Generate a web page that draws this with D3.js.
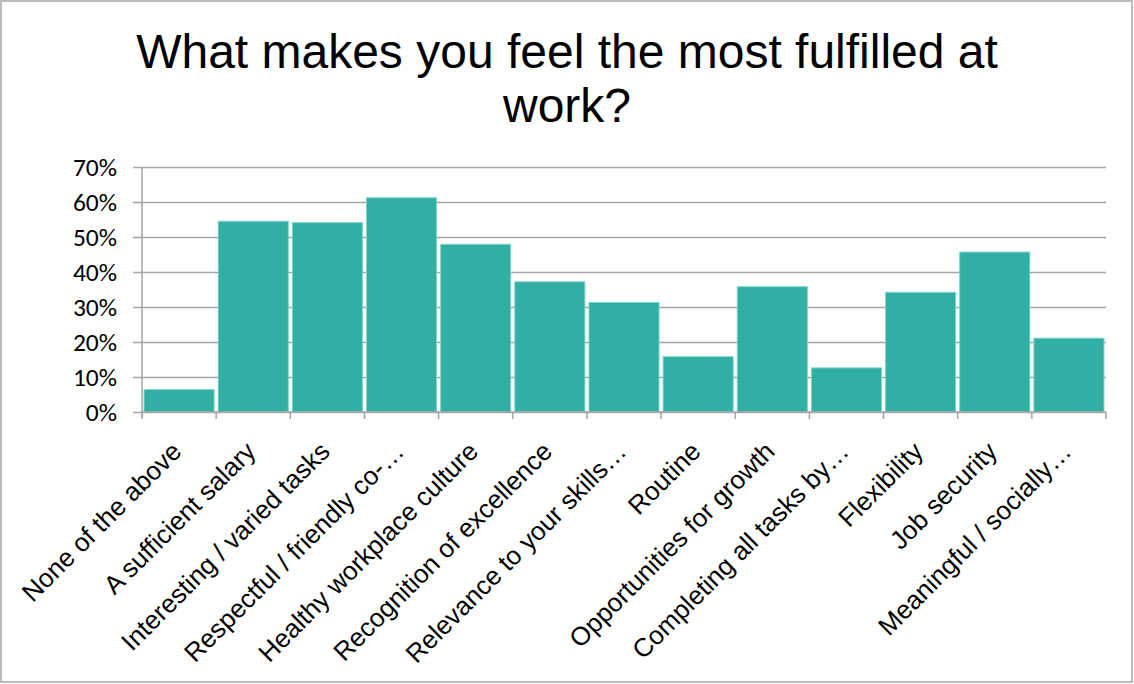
<!DOCTYPE html>
<html>
<head>
<meta charset="utf-8">
<script src="https://cdn.jsdelivr.net/npm/d3@7"></script>
<style>
  html, body { margin: 0; padding: 0; background: #fff; }
  svg { display: block; }
</style>
</head>
<body>
<svg id="chart" width="1134" height="684"></svg>
<script>
const titleLines = ["What makes you feel the most fulfilled at", "work?"];
const categories = [
  "None of the above",
  "A sufficient salary",
  "Interesting / varied tasks",
  "Respectful / friendly co-…",
  "Healthy workplace culture",
  "Recognition of excellence",
  "Relevance to your skills…",
  "Routine",
  "Opportunities for growth",
  "Completing all tasks by…",
  "Flexibility",
  "Job security",
  "Meaningful / socially…"
];
const values = [0.064, 0.545, 0.541, 0.612, 0.479, 0.372, 0.313, 0.158, 0.358, 0.126, 0.342, 0.457, 0.211];
const yTicks = [0, 0.1, 0.2, 0.3, 0.4, 0.5, 0.6, 0.7];

(function () {
const svg = d3.select("#chart");
const pL = 142, pR = 1106, pT = 167, pB = 412;

// outer border
svg.append("rect")
  .attr("x", 1).attr("y", 1).attr("width", 1131).attr("height", 681)
  .attr("fill", "#fff").attr("stroke", "#a6a6a6").attr("stroke-width", 1.5);

// title
svg.append("g").selectAll("text").data(titleLines).join("text")
  .attr("x", 567).attr("y", (d, i) => 68 + i * 53.5)
  .attr("text-anchor", "middle")
  .attr("font-family", "'Liberation Sans', Arial, sans-serif")
  .attr("font-size", 48)
  .attr("fill", "#000")
  .text(d => d);

const x = d3.scaleBand().domain(categories).range([pL, pR])
  .paddingInner(0.055).paddingOuter(0.0275);
const y = d3.scaleLinear().domain([0, 0.7]).range([pB, pT]);

// y axis with gridlines
const yAxis = d3.axisLeft(y).tickValues(yTicks)
  .tickFormat(d3.format(".0%"))
  .tickSize(-(pR - pL + 9)).tickSizeOuter(0).tickPadding(16);
const gy = svg.append("g").attr("transform", `translate(${pL - 9},0)`).call(yAxis);
gy.select(".domain").remove();
gy.selectAll(".tick line").attr("stroke", "#a6a6a6").attr("stroke-width", 1.5);
gy.selectAll(".tick text")
  .attr("font-family", "Carlito, Lato, 'Open Sans', sans-serif")
  .attr("font-size", 25.5).attr("fill", "#000");

// bars
svg.append("g").selectAll("rect").data(values).join("rect")
  .attr("x", (d, i) => x(categories[i]))
  .attr("y", d => y(d))
  .attr("width", x.bandwidth())
  .attr("height", d => y(0) - y(d))
  .attr("fill", "#31afa4")
  .attr("stroke", "#7fd3ca").attr("stroke-width", 1);

// axis lines
svg.append("line").attr("x1", pL).attr("x2", pL).attr("y1", pT).attr("y2", pB + 6)
  .attr("stroke", "#a6a6a6").attr("stroke-width", 1.5);
svg.append("line").attr("x1", pL).attr("x2", pR).attr("y1", pB).attr("y2", pB)
  .attr("stroke", "#a6a6a6").attr("stroke-width", 1.5);

// x ticks at band boundaries
const gap = x.step() * x.paddingInner() / 2;
const bounds = categories.map(c => x(c) - gap).concat([x(categories[categories.length - 1]) + x.bandwidth() + gap]);
svg.append("g").selectAll("line").data(bounds).join("line")
  .attr("x1", d => d).attr("x2", d => d)
  .attr("y1", pB).attr("y2", pB + 7)
  .attr("stroke", "#a6a6a6").attr("stroke-width", 1.5);

// x labels rotated
svg.append("g").selectAll("text").data(categories).join("text")
  .attr("transform", d => `translate(${x(d) + x.bandwidth() / 2 + 4},${pB + 41}) rotate(-45)`)
  .attr("text-anchor", "end")
  .attr("font-family", "'Liberation Sans', Arial, sans-serif")
  .attr("font-size", 26)
  .attr("fill", "#000")
  .text(d => d);
})();
</script>
</body>
</html>
